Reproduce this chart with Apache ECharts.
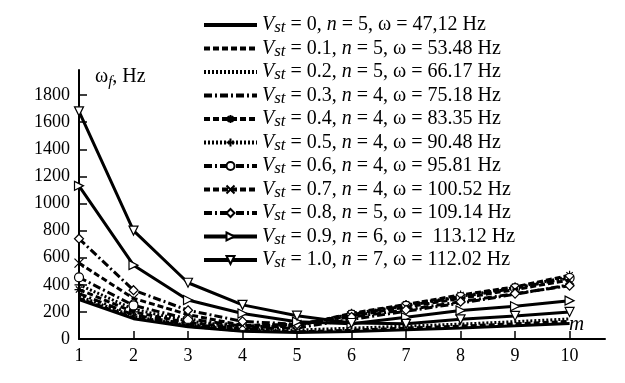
<!DOCTYPE html>
<html>
<head>
<meta charset="utf-8">
<script src="https://cdn.jsdelivr.net/npm/echarts@6/dist/echarts.min.js"></script>
<style>
  html, body { margin: 0; padding: 0; background: #fff; }
  #chart { width: 625px; height: 383px; }
</style>
</head>
<body>
<div id="chart"></div>
<script>
  var modes = [1, 2, 3, 4, 5, 6, 7, 8, 9, 10]
  var yTicks = [0, 200, 400, 600, 800, 1000, 1200, 1400, 1600, 1800]

  // legend text parts: V_st, n, omega
  var vst = ['0', '0.1', '0.2', '0.3', '0.4', '0.5', '0.6', '0.7', '0.8', '0.9', '1.0']
  var nMin = ['5', '5', '5', '4', '4', '4', '4', '4', '5', '6', '7']
  var omega = ['47,12', '53.48', '66.17', '75.18', '83.35', '90.48', '95.81', '100.52', '109.14', ' 113.12', '112.02']

  var w00 = [290, 150, 90, 58, 47.12, 55, 68, 82, 98, 115]
  var w01 = [300, 158, 95, 62, 53.48, 65, 80, 95, 112, 130]
  var w02 = [315, 167, 100, 68, 66.17, 80, 95, 110, 128, 148]
  var w03 = [335, 178, 108, 75.18, 82, 145, 205, 265, 330, 400]
  var w04 = [365, 200, 120, 83.35, 95, 190, 255, 325, 385, 470]
  var w05 = [400, 220, 132, 90.48, 100, 185, 250, 315, 380, 460]
  var w06 = [455, 248, 148, 95.81, 105, 180, 245, 310, 375, 450]
  var w07 = [560, 300, 180, 100.52, 108, 170, 235, 300, 365, 435]
  var w08 = [740, 360, 212, 130, 109.14, 162, 215, 275, 335, 393]
  var w09 = [1130, 545, 288, 188, 128, 113.12, 160, 210, 242, 283]
  var w10 = [1680, 800, 415, 252, 172, 118, 112.02, 145, 170, 200]

  var allData = [w00, w01, w02, w03, w04, w05, w06, w07, w08, w09, w10]

  var dashed = [6, 3]
  var dotted = [2, 2]
  var dashDot = [8, 3, 2, 3]
  var lineTypes = ['solid', dashed, dotted, dashDot, dashed, dotted, dashDot, dashed, dashDot, 'solid', 'solid']
  var symbols = ['none', 'none', 'none', 'none',
    'path://M5,0L5,10M0,5L10,5M1.5,1.5L8.5,8.5M8.5,1.5L1.5,8.5',
    'path://M5,0L5,10M0,5L10,5',
    'circle',
    'path://M0,0L10,10M10,0L0,10',
    'diamond',
    'path://M0,0L9,5L0,10Z',
    'path://M0,0L10,0L5,9Z']

  var serif = 'Liberation Serif'
  var myChart = echarts.init(document.getElementById('chart'))

  var series = allData.map(function (d, i) {
    var sym = symbols[i]
    return {
      name: 'V' + i,
      type: 'line',
      data: d.map(function (v, k) { return [modes[k], v] }),
      symbol: sym,
      showSymbol: sym !== 'none',
      symbolSize: 9,
      z: 2 + i,
      lineStyle: { color: '#000', width: 3, type: lineTypes[i] },
      itemStyle: { color: '#fff', borderColor: '#000', borderWidth: 1.2 },
      emphasis: { disabled: true },
      animation: false
    }
  })

  var legendData = series.map(function (s, i) {
    var item = { name: s.name }
    if (symbols[i] === 'none') item.itemStyle = { opacity: 0 }
    return item
  })

  var option = {
    backgroundColor: '#fff',
    grid: { left: 79, right: 20, top: 70, bottom: 44 },
    xAxis: {
      type: 'value',
      min: 1,
      max: 10.65,
      interval: 1,
      splitLine: { show: false },
      axisLine: { lineStyle: { color: '#000', width: 2 } },
      axisTick: { inside: true, length: 8, lineStyle: { color: '#000', width: 1.5 }, customValues: modes },
      axisLabel: { color: '#000', fontFamily: serif, fontSize: 18, margin: 8, customValues: modes }
    },
    yAxis: {
      type: 'value',
      min: 0,
      max: 1985,
      interval: 200,
      splitLine: { show: false },
      axisLine: { show: true, lineStyle: { color: '#000', width: 2 } },
      axisTick: { show: true, inside: true, length: 8, lineStyle: { color: '#000', width: 1.5 }, customValues: yTicks },
      axisLabel: {
        color: '#000', fontFamily: serif, fontSize: 18, margin: 9, customValues: yTicks,
        formatter: function (v) { return String(v) }
      }
    },
    legend: {
      orient: 'vertical',
      left: 202,
      top: 15,
      padding: 0,
      itemWidth: 53,
      itemHeight: 10,
      itemGap: 2,
      lineStyle: { width: 4 },
      data: legendData,
      formatter: function (name) {
        var i = +name.slice(1)
        return '{v|V}{s|st}{t| = ' + vst[i] + ', }{v|n}{t| = ' + nMin[i] + ', ω = ' + omega[i] + ' Hz}'
      },
      textStyle: {
        color: '#000',
        fontFamily: serif,
        fontSize: 20,
        rich: {
          v: { fontFamily: serif, fontStyle: 'italic', fontSize: 20, color: '#000', lineHeight: 23 },
          s: { fontFamily: serif, fontStyle: 'italic', fontSize: 17, color: '#000', lineHeight: 14, verticalAlign: 'bottom' },
          t: { fontFamily: serif, fontSize: 20, color: '#000', lineHeight: 23 }
        }
      }
    },
    graphic: [
      {
        type: 'text',
        left: 95,
        top: 67,
        style: {
          rich: {
            w: { fontFamily: serif, fontSize: 20, fill: '#000', lineHeight: 26 },
            f: { fontFamily: serif, fontStyle: 'italic', fontSize: 15, fill: '#000', lineHeight: 15, verticalAlign: 'bottom' }
          },
          text: '{w|ω}{f|f}{w|, Hz}'
        }
      },
      {
        type: 'text',
        left: 569,
        top: 314,
        style: { text: 'm', fontFamily: serif, fontStyle: 'italic', fontSize: 21, fill: '#000' }
      }
    ],
    series: series
  }
  myChart.setOption(option)
</script>
</body>
</html>
